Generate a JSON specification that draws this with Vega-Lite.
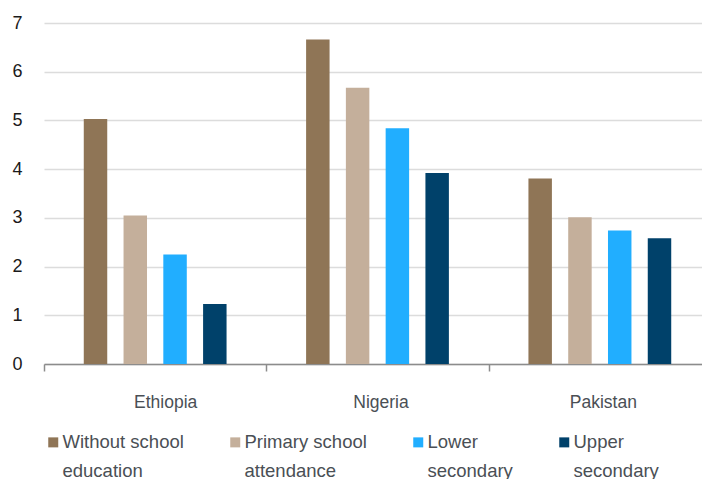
{
  "$schema": "https://vega.github.io/schema/vega-lite/v6.json",
  "autosize": {"type": "none"},
  "padding": {"left": 44, "top": 23, "right": 0, "bottom": 115},
  "width": 658,
  "height": 341,
  "background": "white",
  "data": {"values": [
    {"country": "Ethiopia", "level": "Without school education", "value": 5.03},
    {"country": "Ethiopia", "level": "Primary school attendance", "value": 3.05},
    {"country": "Ethiopia", "level": "Lower secondary", "value": 2.25},
    {"country": "Ethiopia", "level": "Upper secondary", "value": 1.23},
    {"country": "Nigeria", "level": "Without school education", "value": 6.66},
    {"country": "Nigeria", "level": "Primary school attendance", "value": 5.67},
    {"country": "Nigeria", "level": "Lower secondary", "value": 4.84},
    {"country": "Nigeria", "level": "Upper secondary", "value": 3.92},
    {"country": "Pakistan", "level": "Without school education", "value": 3.81},
    {"country": "Pakistan", "level": "Primary school attendance", "value": 3.01},
    {"country": "Pakistan", "level": "Lower secondary", "value": 2.74},
    {"country": "Pakistan", "level": "Upper secondary", "value": 2.58}
  ]},
  "mark": {"type": "bar"},
  "encoding": {
    "x": {
      "field": "country", "type": "nominal", "sort": null,
      "scale": {"range": [0, 667], "paddingInner": 0, "paddingOuter": 0},
      "axis": {
        "title": null, "labelAngle": 0, "tickBand": "extent",
        "domainColor": "#8c8c8c", "domainWidth": 1.5, "tickColor": "#8c8c8c", "tickWidth": 1.5, "tickSize": 7,
        "labelFont": "Liberation Sans", "labelFontSize": 17.5, "labelColor": "#4a4f55", "labelPadding": 22,
        "grid": false,
        "encoding": {"labels": {"dx": {"condition": {"test": "datum.value === 'Ethiopia'", "value": 10}, "value": 3}}}
      }
    },
    "xOffset": {
      "field": "level", "type": "nominal", "sort": null,
      "scale": {"paddingInner": 0.41, "paddingOuter": 1.058}
    },
    "y": {
      "field": "value", "type": "quantitative",
      "scale": {"domain": [0, 7], "nice": false},
      "axis": {
        "title": null, "values": [0,1,2,3,4,5,6,7], "domain": false, "ticks": false, "labelOverlap": false,
        "gridColor": "#dcdcdc", "gridWidth": 1.5,
        "labelFont": "Liberation Sans", "labelFontSize": 18, "labelColor": "#1a1a1a", "labelPadding": 22
      }
    },
    "color": {
      "field": "level", "type": "nominal", "sort": null,
      "scale": {
        "domain": ["Without school education", "Primary school attendance", "Lower secondary", "Upper secondary"],
        "range": ["#8f7556", "#c4af9b", "#21aeff", "#00416a"]
      },
      "legend": {
        "orient": "none", "legendX": 0, "legendY": 410, "direction": "horizontal", "columns": 4,
        "title": null, "symbolType": "square", "symbolSize": 100, "symbolStrokeWidth": 0,
        "labelFont": "Liberation Sans", "labelFontSize": 18.5, "labelColor": "#4a4f55",
        "labelExpr": "split(replace(datum.label, / (\\w+)$/, '\\n$1'), '\\n')",
        "labelBaseline": "middle", "labelOffset": 0,
        "columnPadding": 42, "labelLimit": 200,
        "encoding": {"labels": {"lineHeight": {"value": 29}}}
      }
    }
  },
  "config": {"view": {"stroke": null}}
}
